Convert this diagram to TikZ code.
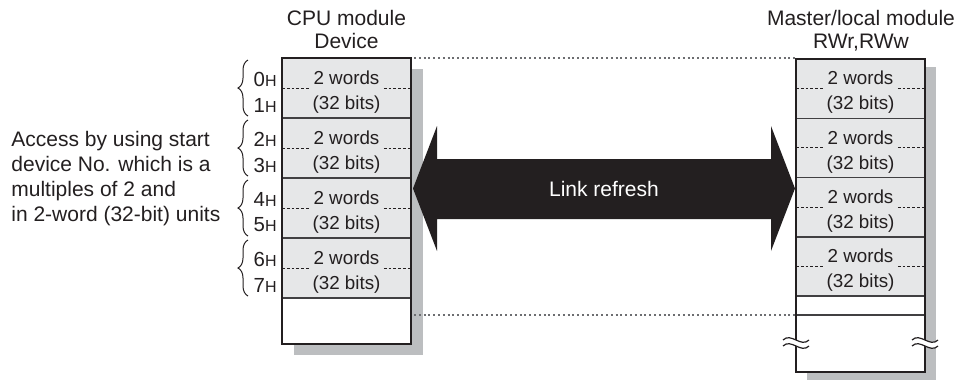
\documentclass[tikz,border=0pt]{standalone}
\usepackage{fontspec}
\setmainfont{Liberation Sans}
\usetikzlibrary{calc,positioning,decorations.pathreplacing}
\definecolor{dgtext} {HTML}{231F20}
\definecolor{dgcell} {HTML}{E6E7E8}
\definecolor{dgshade}{HTML}{BCBEC0}
\definecolor{dgrule} {HTML}{414042}
\definecolor{dgdot}  {HTML}{6D6E71}
\newcommand{\hexno}[1]{#1{\fontsize{8}{8}\selectfont H}}
\newcommand{\breakmark}[2]{%
  \fill[white] (#1-13,#2-3) .. controls (#1-5,#2-11) and (#1+5,#2+5) .. (#1+13,#2-3)
    -- (#1+13,#2+3) .. controls (#1+5,#2+11) and (#1-5,#2-5) .. (#1-13,#2+3) -- cycle;
  \draw[breakrule] (#1-13,#2-3) .. controls (#1-5,#2-11) and (#1+5,#2+5) .. (#1+13,#2-3);
  \draw[breakrule] (#1-13,#2+3) .. controls (#1-5,#2-5) and (#1+5,#2+11) .. (#1+13,#2+3);}
\tikzset{
  colframe/.style={fill=white, minimum width=64.5pt, inner sep=0pt, outer sep=0pt},
  framerule/.style={draw=dgtext, line width=1.2pt},
  wordcell/.style={draw=dgrule, fill=dgcell, line width=0.75pt, minimum width=64.5pt,
    minimum height=30pt, inner sep=0pt, outer sep=0pt},
  cellnote/.style={align=center, inner xsep=1.5pt, inner ysep=0pt,
    font=\fontsize{9.4}{12.5}\selectfont},
  halfrule/.style={draw=dgtext, line width=0.5pt, dash pattern=on 1.4pt off 1pt},
  hexlbl/.style={anchor=east, inner sep=0pt, font=\fontsize{10.2}{11}\selectfont},
  bracerule/.style={draw=dgtext, line width=0.5pt, decorate,
    decoration={brace, amplitude=5pt}},
  linkdots/.style={draw=dgdot, line width=0.7pt, dash pattern=on 1pt off 1.4pt},
  breakrule/.style={draw=dgtext, line width=0.6pt},
  titletext/.style={align=center, inner sep=0pt},
}
\begin{document}
\begin{tikzpicture}[x=0.5pt, y=-0.5pt, text=dgtext,
    font=\fontsize{10.5}{11.5}\selectfont]
  \useasboundingbox (0,0) rectangle (959,381);
  % drop shadows
  \fill[dgshade] (293.5,69) rectangle (422.5,355);
  \fill[dgshade] (807,67) rectangle (936,380);
  % columns
  \node[colframe, minimum height=143pt] (cpucol) at (346.5,201) {};
  \node[colframe, minimum height=156.5pt] (mstcol) at (860.5,215.5) {};
  \foreach \i/\lo/\hi in {0/0/1, 1/2/3, 2/4/5, 3/6/7} {
    \node[wordcell, anchor=north] (cpu\i) at (346.5,58+60*\i) {};
    \node[cellnote] (cpun\i) at ($(cpu\i.center)+(0,4)$) {2 words\\(32 bits)};
    \draw[halfrule] (cpu\i.west) -- (cpu\i.west -| cpun\i.west);
    \draw[halfrule] (cpu\i.east -| cpun\i.east) -- (cpu\i.east);
    \node[hexlbl] (cpua\lo) at ($(cpu\i.north west)+(-5,21)$) {\hexno{\lo}};
    \node[hexlbl] (cpua\hi) at ($(cpu\i.north west)+(-5,47)$) {\hexno{\hi}};
    \draw[bracerule] ($(cpu\i.south west)+(-34,-2)$) -- ($(cpu\i.north west)+(-34,2)$);
    \node[wordcell, minimum height=29.625pt, anchor=north] (mst\i) at (860.5,59+59.25*\i) {};
    \node[cellnote] (mstn\i) at ($(mst\i.center)+(0,4)$) {2 words\\(32 bits)};
    \draw[halfrule] (mst\i.west) -- (mst\i.west -| mstn\i.west);
    \draw[halfrule] (mst\i.east -| mstn\i.east) -- (mst\i.east);
  }
  \coordinate (mstcut) at (860.5,315);
  \draw[dgrule, line width=0.8pt] (mstcut -| mstcol.west) -- (mstcut -| mstcol.east);
  \draw[framerule] (cpucol.north west) rectangle (cpucol.south east);
  \draw[framerule] (mstcol.north west) rectangle (mstcol.south east);
  \breakmark{796}{343}
  \breakmark{925}{343}
  % dotted guides
  \draw[linkdots] ($(cpucol.north east)+(3,0)$) -- (cpucol.north east -| mstcol.west);
  \draw[linkdots] ($(mstcut -| cpucol.east)+(3,0)$) -- (mstcut -| mstcol.west);
  % link refresh arrow
  \fill[dgtext] (413,188.5) -- (437,126) -- (437,159) -- (771,159) -- (771,126)
    -- (795,188.5) -- (771,251) -- (771,219) -- (437,219) -- (437,251) -- cycle;
  \node[text=white] (linkrefresh) at (604,189) {Link refresh};
  % titles and note
  \node[titletext] (cputitle) at (346.5,29.5) {CPU module\\Device};
  \node[titletext] (msttitle) at (861,31) {Master/local module\\RWr,RWw};
  \node[anchor=west, align=left, inner sep=0pt, font=\fontsize{10.5}{12.5}\selectfont]
    (accessnote) at (11,178.5)
    {Access by using start\\device No. which is a\\multiples of 2 and\\in 2-word (32-bit) units};
\end{tikzpicture}
\end{document}
